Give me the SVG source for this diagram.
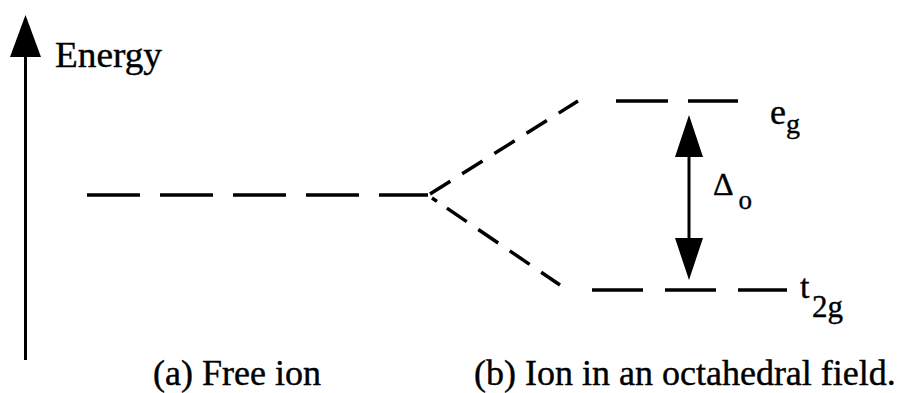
<svg xmlns="http://www.w3.org/2000/svg" width="908" height="393" viewBox="0 0 908 393">
<style>
.lvl{stroke:#000;stroke-width:3.5;fill:none;stroke-dasharray:53 20}
.ax{stroke:#000;stroke-width:3;fill:none}
.t{font-family:"Liberation Serif","Times New Roman",serif;fill:#000;stroke:#000;stroke-width:0.4}
</style>
<rect width="908" height="393" fill="#fff"/>
<g id="axis">
<line class="ax" x1="25.5" y1="55" x2="25.5" y2="360"/>
<polygon points="25.5,15 10,57 41,57" fill="#000"/>
<text class="t" x="55" y="67" font-size="36" textLength="107" lengthAdjust="spacingAndGlyphs">Energy</text>
</g>
<g id="connectors">
<line class="lvl" x1="430" y1="194" x2="578" y2="101" style="stroke-dasharray:24 14"/>
<line class="lvl" x1="432" y1="198" x2="560" y2="285" style="stroke-dasharray:6 12 24 14 24 14 24 14 24 14"/>
</g>
<g id="free-ion">
<line class="lvl" x1="87" y1="195" x2="428" y2="195" style="stroke-dasharray:53 20"/>
</g>
<g id="eg">
<line class="lvl" x1="616" y1="101" x2="738" y2="101" style="stroke-dasharray:52 20"/>
<text class="t" x="770" y="124" font-size="36">e<tspan font-size="28" dy="9">g</tspan></text>
</g>
<g id="t2g">
<line class="lvl" x1="592" y1="290" x2="787" y2="290" style="stroke-dasharray:51 22"/>
<text class="t" x="800" y="298" font-size="34">t</text>
<text class="t" x="812" y="317" font-size="31">2g</text>
</g>
<g id="delta">
<line class="ax" x1="689" y1="150" x2="689" y2="245"/>
<polygon points="689,115 675,157 703,157" fill="#000"/>
<polygon points="689,280 675,238 703,238" fill="#000"/>
<text class="t" x="713" y="195" font-size="32">Δ<tspan font-size="27" dx="5" dy="14">o</tspan></text>
</g>
<g id="captions">
<text class="t" x="153" y="385" font-size="36">(a) Free ion</text>
<text class="t" x="474" y="385" font-size="36">(b) Ion in an octahedral field.</text>
</g>
</svg>
